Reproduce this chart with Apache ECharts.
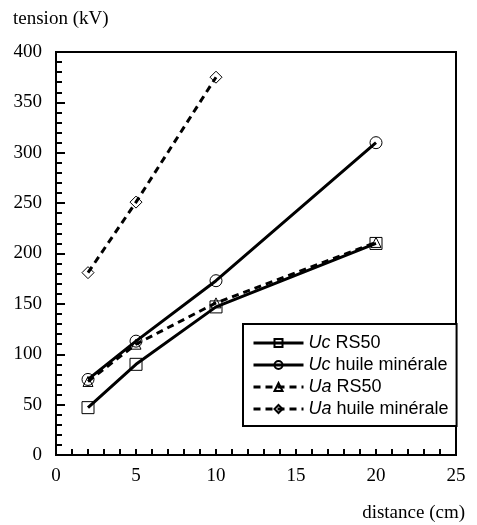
<!DOCTYPE html>
<html><head><meta charset="utf-8">
<script src="https://cdn.jsdelivr.net/npm/echarts@6/dist/echarts.min.js"></script>
<style>html,body{margin:0;padding:0;background:#fff}#c{width:477px;height:525px}</style>
</head><body><div id="c"></div>
<script>
const seriesNames = ['Uc RS50', 'Uc huile minérale', 'Ua RS50', 'Ua huile minérale'];
const ucRS50 = [[2, 47], [5, 90], [10, 147], [20, 210]];
const ucHuile = [[2, 75], [5, 113], [10, 173], [20, 310]];
const uaRS50 = [[2, 73], [5, 110], [10, 151], [20, 211]];
const uaHuile = [[2, 181], [5, 251], [10, 375]];
const xTicks = [0, 5, 10, 15, 20, 25];
const yTicks = [0, 50, 100, 150, 200, 250, 300, 350, 400];

const chart = echarts.init(document.getElementById('c'), null, {renderer: 'canvas'});
const serif = '"Liberation Serif", "Times New Roman", serif';
const sans = '"Liberation Sans", Arial, sans-serif';
function mk(name, data, symbol, size, dashed) {
  return {
    name: name, type: 'line', data: data, symbol: symbol, symbolSize: size,
    lineStyle: {color: '#000', width: 3, type: dashed ? [7, 5] : 'solid'},
    itemStyle: {color: 'rgba(0,0,0,0)', borderColor: '#000', borderWidth: 1},
    showAllSymbol: true, animation: false, z: 3
  };
}
const legendFmt = n => { const p = n.split(' '); return '{i|' + p[0] + '} ' + p.slice(1).join(' '); };
chart.setOption({
  backgroundColor: '#fff',
  animation: false,
  grid: {left: 56, top: 52, right: 21, bottom: 70, show: true, borderColor: '#000', borderWidth: 2, backgroundColor: 'transparent'},
  xAxis: {
    type: 'value', min: xTicks[0], max: xTicks[xTicks.length - 1], interval: 5,
    axisLine: {show: true, lineStyle: {color: '#000', width: 2}},
    axisTick: {show: true, inside: true, length: 6, lineStyle: {color: '#000', width: 2}},
    minorTick: {show: true, splitNumber: 5, length: 6, lineStyle: {color: '#000', width: 2}},
    splitLine: {show: false},
    axisLabel: {color: '#000', fontFamily: serif, fontSize: 19, margin: 12}
  },
  yAxis: {
    type: 'value', min: yTicks[0], max: yTicks[yTicks.length - 1], interval: 50,
    axisLine: {show: true, lineStyle: {color: '#000', width: 2}},
    axisTick: {show: true, inside: true, length: 9, lineStyle: {color: '#000', width: 2}},
    minorTick: {show: true, splitNumber: 5, length: 6, lineStyle: {color: '#000', width: 2}},
    splitLine: {show: false},
    axisLabel: {color: '#000', fontFamily: serif, fontSize: 19, margin: 14}
  },
  legend: {
    data: seriesNames, orient: 'vertical', left: 243, top: 324,
    backgroundColor: '#fff', borderColor: '#000', borderWidth: 2,
    padding: [8, 8, 6, 9], itemGap: 0, itemWidth: 50, itemHeight: 10,
    lineStyle: {width: 3},
    formatter: legendFmt,
    textStyle: {color: '#000', fontFamily: sans, fontSize: 18, lineHeight: 22,
      rich: {i: {fontStyle: 'italic', fontFamily: sans, fontSize: 18, lineHeight: 22, color: '#000'}}},
    inactiveColor: '#000', selectedMode: false
  },
  graphic: [
    {type: 'text', x: 13, y: 19, style: {text: 'tension (kV)', font: '19px ' + serif, fill: '#000', verticalAlign: 'middle', align: 'left'}},
    {type: 'text', x: 465, y: 513, style: {text: 'distance (cm)', font: '19px ' + serif, fill: '#000', verticalAlign: 'middle', align: 'right'}}
  ],
  series: [
    mk(seriesNames[0], ucRS50, 'rect', 12, false),
    mk(seriesNames[1], ucHuile, 'circle', 12, false),
    mk(seriesNames[2], uaRS50, 'triangle', 10, true),
    mk(seriesNames[3], uaHuile, 'diamond', 12, true)
  ]
});
</script></body></html>
